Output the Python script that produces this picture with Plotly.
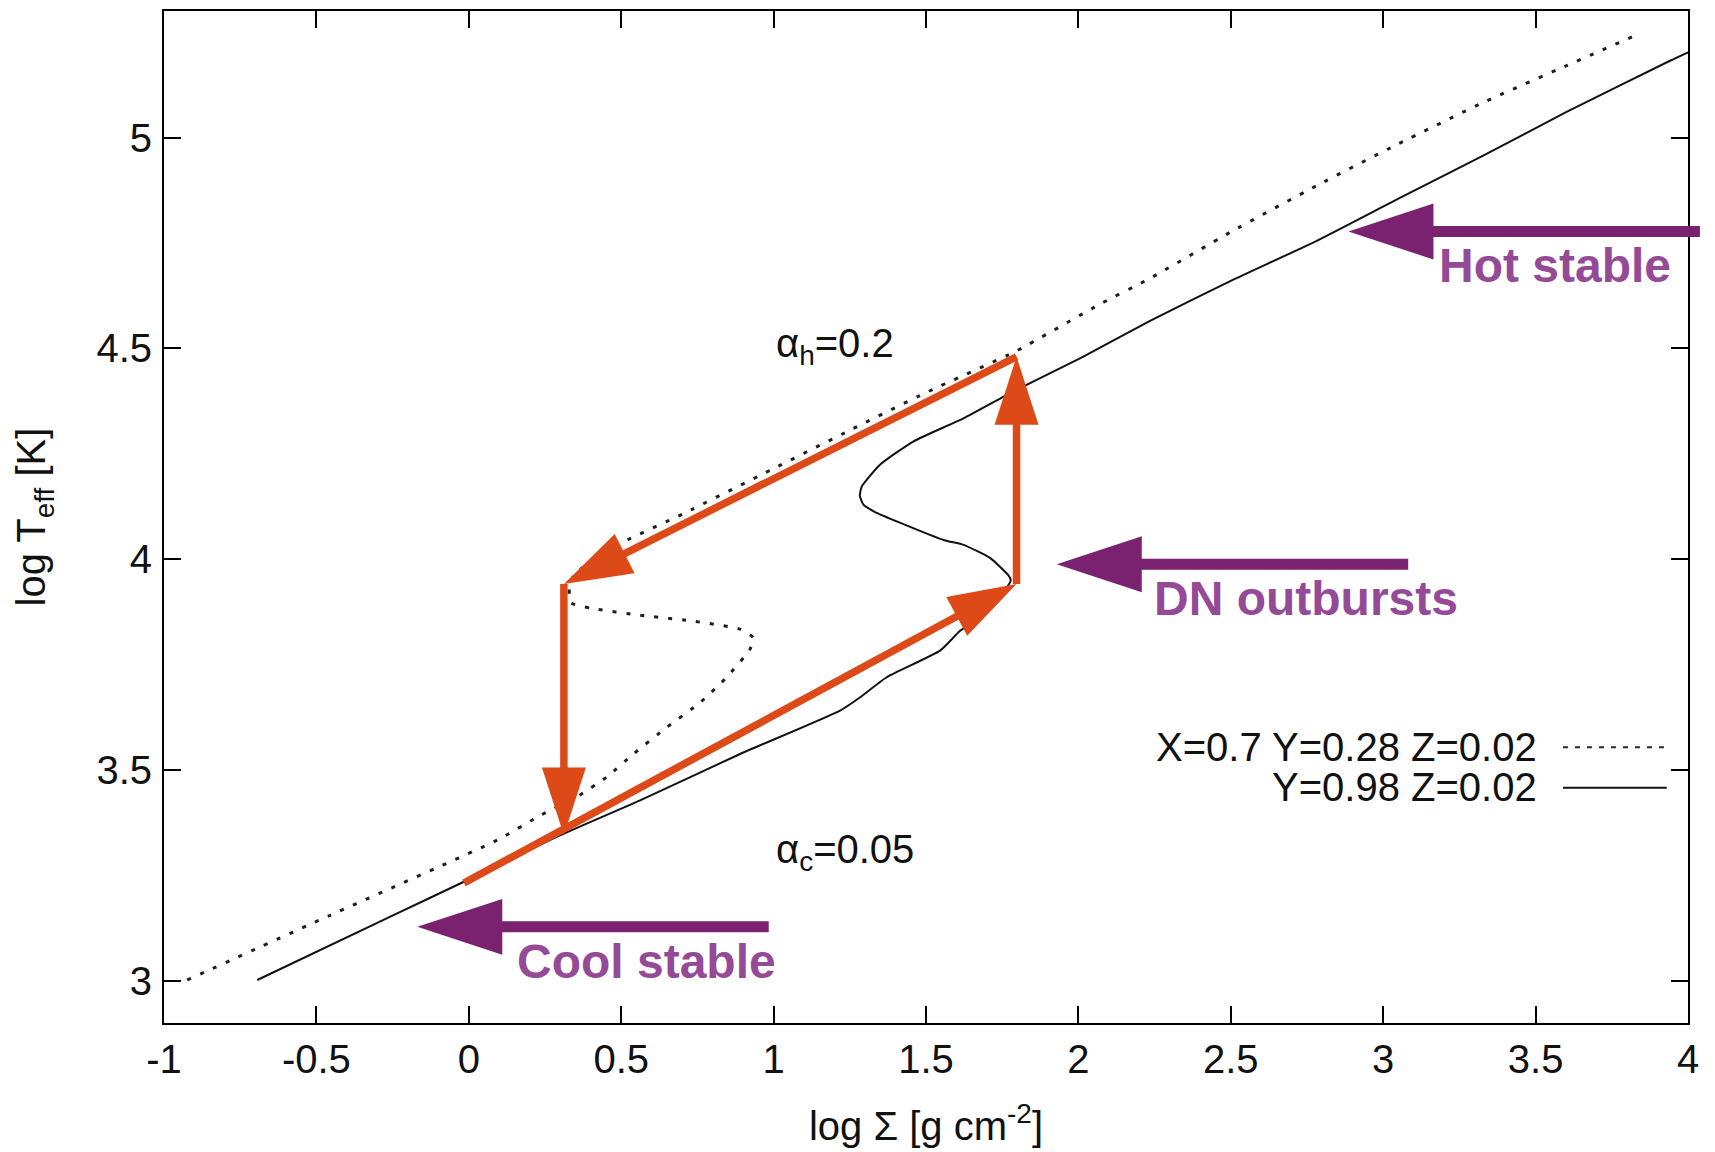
import math
import plotly.graph_objects as go

# Thermal-equilibrium S-curves in the (log Sigma, log Teff) plane
# Solar composition: X=0.7 Y=0.28 Z=0.02 (dotted)
logsig_solar = [-0.924, -0.453, 0.094, 0.234, 0.354, 0.452, 0.540, 0.649, 0.759,
                0.846, 0.923, 0.933, 0.890, 0.726, 0.562, 0.398, 0.334, 0.330,
                0.345, 0.400, 0.479, 0.704, 1.000, 1.251, 1.500, 1.797, 2.071,
                2.235, 2.500, 2.782, 3.050, 3.328, 3.600, 3.837]
logteff_solar = [3.002, 3.156, 3.334, 3.392, 3.436, 3.483, 3.538, 3.601, 3.660,
                 3.720, 3.787, 3.814, 3.834, 3.854, 3.867, 3.884, 3.897, 3.932,
                 3.962, 3.995, 4.031, 4.108, 4.215, 4.306, 4.395, 4.494, 4.605,
                 4.666, 4.776, 4.886, 4.985, 5.083, 5.170, 5.245]

# Helium-rich composition: Y=0.98 Z=0.02 (solid)
logsig_helium = [-0.694, -0.235, -0.016, 0.299, 0.562, 0.890, 1.218, 1.283, 1.371,
                 1.546, 1.612, 1.700, 1.755, 1.778, 1.770, 1.710, 1.623, 1.560,
                 1.420, 1.330, 1.294, 1.283, 1.289, 1.349, 1.458, 1.623, 1.787,
                 2.010, 2.235, 2.500, 2.782, 3.050, 3.328, 3.600, 3.941, 4.000]
logteff_helium = [3.002, 3.160, 3.235, 3.345, 3.428, 3.538, 3.641, 3.672, 3.720,
                  3.783, 3.830, 3.875, 3.922, 3.950, 3.962, 4.003, 4.034, 4.045,
                  4.085, 4.113, 4.130, 4.150, 4.172, 4.224, 4.279, 4.334, 4.398,
                  4.478, 4.565, 4.660, 4.755, 4.855, 4.957, 5.060, 5.182, 5.202]

# Limit cycle of a dwarf-nova outburst (vertices visited in order)
cycle_logsig = [-0.016, 1.797, 1.797, 0.312, 0.312]
cycle_logteff = [3.232, 3.941, 4.480, 3.941, 3.345]

# Stability regimes: label, arrow tip (log Sigma, log Teff), arrow tail log Sigma
regime_labels = ["Hot stable", "DN outbursts", "Cool stable"]
regime_tip_logsig = [2.886, 1.929, -0.169]
regime_tip_logteff = [4.777, 3.988, 3.128]
regime_tail_logsig = [4.039, 3.082, 0.984]

legend_labels = ["X=0.7 Y=0.28 Z=0.02", "Y=0.98 Z=0.02"]

xtick_vals = [-1, -0.5, 0, 0.5, 1, 1.5, 2, 2.5, 3, 3.5, 4]
xtick_text = ["-1", "-0.5", "0", "0.5", "1", "1.5", "2", "2.5", "3", "3.5", "4"]
ytick_vals = [3, 3.5, 4, 4.5, 5]
ytick_text = ["3", "3.5", "4", "4.5", "5"]

# ---- layout geometry -------------------------------------------------------
W, H = 1715, 1152
MARGIN = dict(l=164, r=27, t=9, b=129)
X_RANGE = [-1, 4]
Y_RANGE = [2.9, 5.3]
PW = W - MARGIN["l"] - MARGIN["r"]
PH = H - MARGIN["t"] - MARGIN["b"]
SX = PW / (X_RANGE[1] - X_RANGE[0])   # pixels per x unit
SY = PH / (Y_RANGE[1] - Y_RANGE[0])   # pixels per y unit

ORANGE = "#DE4A17"
PURPLE = "#7A2170"
PURPLE_TEXT = "#954A98"
FONT = "Liberation Sans"

fig = go.Figure()

fig.add_trace(go.Scatter(
    x=logsig_solar, y=logteff_solar, mode="lines",
    line=dict(color="#1e1e1e", width=3, dash="4px,10px",
              shape="spline", smoothing=0.5),
    hoverinfo="skip"))
fig.add_trace(go.Scatter(
    x=logsig_helium, y=logteff_helium, mode="lines",
    line=dict(color="#111111", width=2, shape="spline", smoothing=0.5),
    hoverinfo="skip"))


def arrow_parts(x0, y0, x1, y1, head_len=68, head_half=22):
    """Shaft end point and triangular head (data units) for an arrow
    whose head size is fixed in screen pixels."""
    dxp, dyp = (x1 - x0) * SX, (y1 - y0) * SY
    d = math.hypot(dxp, dyp)
    ux, uy = dxp / d, dyp / d
    bx, by = x1 - head_len * ux / SX, y1 - head_len * uy / SY
    nx, ny = -uy, ux
    tri_x = [x1, bx + head_half * nx / SX, bx - head_half * nx / SX, x1]
    tri_y = [y1, by + head_half * ny / SY, by - head_half * ny / SY, y1]
    sx_end = x1 - 0.5 * head_len * ux / SX
    sy_end = y1 - 0.5 * head_len * uy / SY
    return (sx_end, sy_end), tri_x, tri_y


for i in range(len(cycle_logsig) - 1):
    x0, y0 = cycle_logsig[i], cycle_logteff[i]
    x1, y1 = cycle_logsig[i + 1], cycle_logteff[i + 1]
    (ex, ey), tx, ty = arrow_parts(x0, y0, x1, y1)
    fig.add_trace(go.Scatter(
        x=[x0, ex], y=[y0, ey], mode="lines",
        line=dict(color=ORANGE, width=7.5), hoverinfo="skip"))
    fig.add_trace(go.Scatter(
        x=tx, y=ty, mode="lines", fill="toself", fillcolor=ORANGE,
        line=dict(color=ORANGE, width=0), hoverinfo="skip"))


# ---- purple regime arrows (paper coordinates so they may leave the frame) --
def to_px(x):
    return (x - X_RANGE[0]) / (X_RANGE[1] - X_RANGE[0])


def to_py(y):
    return (y - Y_RANGE[0]) / (Y_RANGE[1] - Y_RANGE[0])


HEAD_LEN = 85 / PW
HEAD_HALF = 28 / PH
SHAFT_HALF = 5.5 / PH
shapes = []
for tx, ty, tail in zip(regime_tip_logsig, regime_tip_logteff, regime_tail_logsig):
    px, py, pt = to_px(tx), to_py(ty), to_px(tail)
    bx = px + HEAD_LEN
    path = (f"M{px},{py} L{bx},{py + HEAD_HALF} L{bx},{py + SHAFT_HALF} "
            f"L{pt},{py + SHAFT_HALF} L{pt},{py - SHAFT_HALF} "
            f"L{bx},{py - SHAFT_HALF} L{bx},{py - HEAD_HALF} Z")
    shapes.append(dict(type="path", xref="paper", yref="paper", path=path,
                       fillcolor=PURPLE, line=dict(width=0), layer="above"))

# key drawn gnuplot-style (text to the left of each line sample)
shapes.append(dict(type="line", xref="x", yref="y", x0=3.59, x1=3.93, y0=3.554, y1=3.554,
                   line=dict(color="#2a2a2a", width=2, dash="5px,7px")))
shapes.append(dict(type="line", xref="x", yref="y", x0=3.59, x1=3.93, y0=3.458, y1=3.458,
                   line=dict(color="#111111", width=2)))

annotations = []
regime_text_pos = [(3.177, 4.696), (2.241, 3.907), (0.151, 3.046)]
for label, (ax_, ay_) in zip(regime_labels, regime_text_pos):
    annotations.append(dict(x=ax_, y=ay_, xref="x", yref="y", text=label,
                            showarrow=False, xanchor="left", yanchor="middle",
                            font=dict(family=FONT, size=48, color=PURPLE_TEXT,
                                      weight="bold")))

black_font = dict(family=FONT, size=40, color="#111111")
annotations.append(dict(x=1.0, y=4.505, xref="x", yref="y",
                        text="α<sub>h</sub>=0.2", showarrow=False,
                        xanchor="left", yanchor="middle", font=black_font))
annotations.append(dict(x=1.0, y=3.305, xref="x", yref="y",
                        text="α<sub>c</sub>=0.05", showarrow=False,
                        xanchor="left", yanchor="middle", font=black_font))
for label, ly in zip(legend_labels, [3.555, 3.460]):
    annotations.append(dict(x=3.51, y=ly, xref="x", yref="y", text=label,
                            showarrow=False, xanchor="right", yanchor="middle",
                            font=black_font))

axis_common = dict(
    showline=True, linecolor="black", linewidth=2, mirror="ticks",
    ticks="inside", ticklen=17, tickwidth=2, tickcolor="black",
    showgrid=False, zeroline=False, tickfont=black_font,
    title_font=black_font,
)

fig.update_layout(
    width=W, height=H, margin=MARGIN,
    plot_bgcolor="white", paper_bgcolor="white",
    showlegend=False, shapes=shapes, annotations=annotations,
    xaxis=dict(range=X_RANGE, tickvals=xtick_vals, ticktext=xtick_text,
               title=dict(text="log Σ [g cm<sup>-2</sup>]", standoff=32),
               ticklabelstandoff=0, **axis_common),
    yaxis=dict(range=Y_RANGE, tickvals=ytick_vals, ticktext=ytick_text,
               title=dict(text="log T<sub>eff</sub> [K]", standoff=38),
               ticklabelstandoff=2, **axis_common),
)

fig.write_html("out.html")
